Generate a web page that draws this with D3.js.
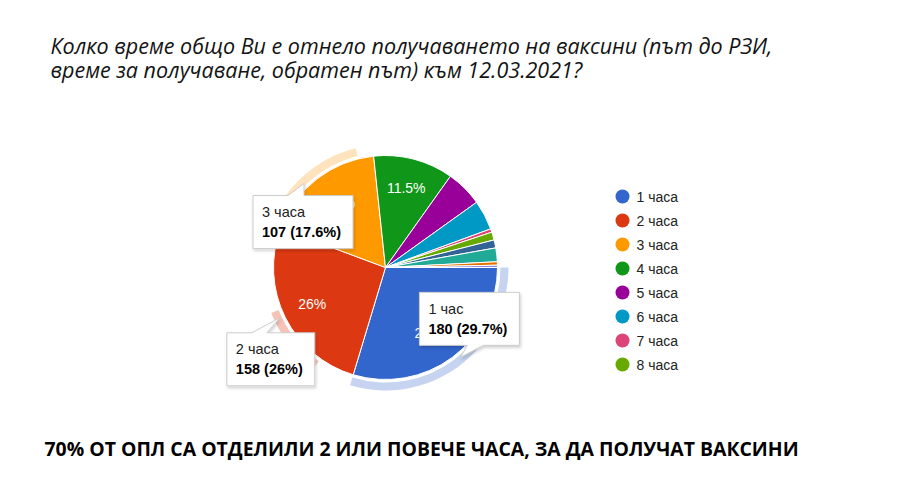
<!DOCTYPE html>
<html>
<head>
<meta charset="utf-8">
<script src="https://cdn.jsdelivr.net/npm/d3@7"></script>
<style>
  body { margin: 0; background: #fff; }
  svg { display: block; }
</style>
</head>
<body>
<svg id="chart" width="902" height="489"></svg>
<script>
const titleLines = [
  'Колко време общо Ви е отнело получаването на ваксини (път до РЗИ,',
  'време за получаване, обратен път) към 12.03.2021?'
]
const footnote = '70% ОТ ОПЛ СА ОТДЕЛИЛИ 2 ИЛИ ПОВЕЧЕ ЧАСА, ЗА ДА ПОЛУЧАТ ВАКСИНИ'

const categories = ['1 часа', '2 часа', '3 часа', '4 часа', '5 часа', '6 часа', '7 часа', '8 часа', '9 часа', '10 часа', '11 часа', '12 часа']
const counts = [180, 158, 107, 70, 32, 26, 3, 7, 7, 12, 3, 2]
const colors = ['#3366cc', '#dc3912', '#ff9900', '#109618', '#990099', '#0099c6', '#dd4477', '#66aa00', '#316395', '#22aa99', '#e67300', '#8b8bd8']
const legendCount = 8

// tooltips shown in the screenshot (slice index, heading text)
const tooltipSlices = [2, 1, 0]
const tooltipNames = ['3 часа', '2 часа', '1 час']

// highlight rings on the selected slices (part of slice covered, from/to)
const ringSlices = [0, 1, 2]
const ringFrom = [0, 0.2, 0]
const ringTo = [1, 0.55, 0.875]
const ringColors = ['#c6d4f1', '#f6c3b7', '#ffe3bd']

const svg = d3.select('#chart')
const total = d3.sum(counts)
const cx = 385.5
const cy = 267.5
const r = 112

const pctText = (v) => Math.round((v / total) * 1000) / 10 + '%'

// title
const title = svg.append('g').attr('font-family', 'Open Sans').attr('font-style', 'italic').attr('fill', '#141414')
const titleWidths = [761, 565]
titleLines.forEach((t, i) => {
  const el = title.append('text').attr('x', 50.5).attr('y', 53.5 + i * 24).attr('font-size', 21).text(t)
  const w = el.node().getComputedTextLength()
  el.attr('font-size', Math.min(21.5, 21 * titleWidths[i] / w))
})

const foot = svg.append('text')
  .attr('x', 44.5).attr('y', 456)
  .attr('font-family', 'Open Sans').attr('font-weight', 700)
  .attr('font-size', 17).attr('fill', '#000')
  .text(footnote)
const fw = foot.node().getComputedTextLength()
foot.attr('font-size', 17 * 755 / fw)

const defs = svg.append('defs')
const shadow = defs.append('filter').attr('id', 'shadow').attr('x', '-20%').attr('y', '-20%').attr('width', '150%').attr('height', '150%')
shadow.append('feDropShadow').attr('dx', 1).attr('dy', 2).attr('stdDeviation', 1.5).attr('flood-color', '#000').attr('flood-opacity', 0.18)

const pie = d3.pie().sort(null).value((d) => d)
  .startAngle(Math.PI / 2).endAngle(Math.PI / 2 + 2 * Math.PI)
const arcs = pie(counts)

const g = svg.append('g').attr('transform', `translate(${cx},${cy})`)

// rings
const ringArc = d3.arc().innerRadius(r + 3).outerRadius(r + 11)
ringSlices.forEach((idx, i) => {
  const a = arcs[idx]
  const span = a.endAngle - a.startAngle
  g.append('path')
    .attr('d', ringArc({ startAngle: a.startAngle + span * ringFrom[i], endAngle: a.startAngle + span * ringTo[i] }))
    .attr('fill', ringColors[i])
})

const arc = d3.arc().innerRadius(0).outerRadius(r)
g.selectAll('path.slice')
  .data(arcs)
  .enter()
  .append('path')
  .attr('class', 'slice')
  .attr('d', arc)
  .attr('fill', (d, i) => colors[i])
  .attr('stroke', '#fff')
  .attr('stroke-width', 1)

const labelArc = d3.arc().innerRadius(r * 0.73).outerRadius(r * 0.73)
g.selectAll('text.pct')
  .data(arcs.filter((d) => d.value / total >= 0.1))
  .enter()
  .append('text')
  .attr('class', 'pct')
  .attr('transform', (d) => `translate(${labelArc.centroid(d)})`)
  .attr('text-anchor', 'middle')
  .attr('dy', '0.36em')
  .attr('font-family', 'Liberation Sans')
  .attr('font-size', 14)
  .attr('fill', '#fff')
  .text((d) => pctText(d.value))

// tooltips: tail tip sits just outside the slice, at a fraction of its angle
const tipFrac = [0.4, 0.51, 0.47]
const boxOffset = [[-51, 12], [-53, 15], [-41, -12]]
const tailBase = [[-16, 0], [-28, -13], [7, 23]]
const boxH = 53

tooltipSlices.forEach((idx, i) => {
  const a = arcs[idx]
  const ang = a.startAngle + (a.endAngle - a.startAngle) * tipFrac[i]
  const px = cx + (r + 5) * Math.sin(ang)
  const py = cy - (r + 5) * Math.cos(ang)
  const below = boxOffset[i][1] > 0
  const left = px + boxOffset[i][0]
  const top = below ? py + boxOffset[i][1] : py + boxOffset[i][1] - boxH
  const tip = svg.append('g')

  const t1 = tip.append('text').attr('x', left + 9).attr('y', top + 21.5)
    .attr('font-family', 'Liberation Sans').attr('font-size', 14.5).attr('fill', '#222')
    .text(tooltipNames[i])
  const t2 = tip.append('text').attr('x', left + 9).attr('y', top + 41.5)
    .attr('font-family', 'Liberation Sans').attr('font-size', 14.5).attr('font-weight', 700).attr('fill', '#000')
    .text(`${counts[idx]} (${pctText(counts[idx])})`)
  const w = Math.max(t1.node().getComputedTextLength(), t2.node().getComputedTextLength()) + 21

  const edgeY = below ? top : top + boxH
  const bx0 = px + tailBase[i][0]
  const bx1 = px + tailBase[i][1]
  const path = d3.path()
  path.moveTo(left, top)
  if (below) {
    path.lineTo(bx0, top); path.lineTo(px, py); path.lineTo(bx1, top)
  }
  path.lineTo(left + w, top)
  path.lineTo(left + w, top + boxH)
  if (!below) {
    path.lineTo(bx1, edgeY); path.lineTo(px, py); path.lineTo(bx0, edgeY)
  }
  path.lineTo(left, top + boxH)
  path.closePath()

  tip.insert('path', 'text')
    .attr('d', path.toString())
    .attr('fill', '#fff')
    .attr('stroke', '#cccccc')
    .attr('stroke-width', 1)
    .attr('filter', 'url(#shadow)')
})

// legend
const legend = svg.append('g').attr('transform', 'translate(622.5,196.5)')
const items = legend.selectAll('g')
  .data(categories.slice(0, legendCount))
  .enter()
  .append('g')
  .attr('transform', (d, i) => `translate(0,${i * 24})`)
items.append('circle').attr('r', 7).attr('fill', (d, i) => colors[i])
items.append('text')
  .attr('x', 14).attr('dy', '0.36em')
  .attr('font-family', 'Liberation Sans').attr('font-size', 14).attr('fill', '#222')
  .text((d) => d)
</script>
</body>
</html>
